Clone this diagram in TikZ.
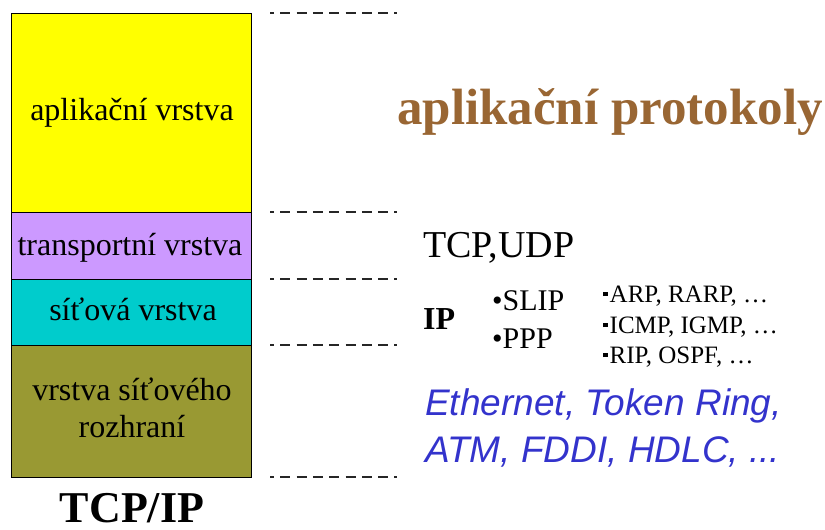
\documentclass[tikz,border=0pt]{standalone}
\usepackage{fontspec}
\setmainfont{Liberation Serif}
\newfontfamily\arialfont{Liberation Sans}
\definecolor{appyellow}{HTML}{FFFF00}
\definecolor{trpurple}{HTML}{CC99FF}
\definecolor{netcyan}{HTML}{00CCCC}
\definecolor{linkolive}{HTML}{999933}
\definecolor{protobrown}{HTML}{996633}
\definecolor{linkblue}{HTML}{3333CC}
\newcommand{\sqbul}{\raisebox{6pt}{\rule{4.5pt}{4.5pt}}\hspace{2pt}}
\begin{document}
\begin{tikzpicture}[x=1pt,y=-1pt,
  layer/.style={draw=black,line width=1.4pt,minimum width=240pt,inner sep=0pt,anchor=north west},
  ltext/.style={anchor=base,inner sep=0pt,font=\fontsize{32}{38}\selectfont},
  guide/.style={draw=black!85,line width=1.6pt,dash pattern=on 10pt off 6.3pt,dash phase=6pt},
  rtext/.style={anchor=base west,inner sep=0pt}]
\useasboundingbox (0,0) rectangle (825,530);
% layers
\node[layer,fill=appyellow,minimum height=199pt] (app) at (11,13) {};
\node[layer,fill=trpurple,minimum height=67pt] (tr) at (11,212) {};
\node[layer,fill=netcyan,minimum height=66pt] (net) at (11,279) {};
\node[layer,fill=linkolive,minimum height=132pt] (link) at (11,345) {};
\node[ltext] (appt) at (132,120) {aplikační vrstva};
\node[ltext] (trt) at (130,255) {transportní vrstva};
\node[ltext] (nett) at (133,320) {síťová vrstva};
\node[ltext] (linkt1) at (132,400) {vrstva síťového};
\node[ltext] (linkt2) at (132,437) {rozhraní};
\node[anchor=base,inner sep=0pt,font=\fontsize{44}{50}\selectfont\bfseries] (stack) at (132,522) {TCP/IP};
% guides
\foreach \i/\y in {1/13,2/212,3/279,4/345,5/477}{
  \coordinate (gs\i) at (270,\y);
  \coordinate (ge\i) at (397,\y);
  \draw[guide] (gs\i) -- (ge\i);
}
% right side texts
\node[rtext,font=\fontsize{51}{57}\selectfont\bfseries,text=protobrown] (proto) at (397,124) {aplikační protokoly};
\node[rtext,font=\fontsize{38}{44}\selectfont] (tcpudp) at (423,257) {TCP,UDP};
\node[rtext,font=\fontsize{32}{38}\selectfont\bfseries] (ip) at (423,329) {IP};
\node[rtext,font=\fontsize{30}{36}\selectfont] (slip) at (492,310) {•SLIP};
\node[rtext,font=\fontsize{30}{36}\selectfont] (ppp) at (492,348) {•PPP};
\node[rtext,font=\fontsize{25}{30}\selectfont] (arp) at (603,302) {\sqbul ARP, RARP, …};
\node[rtext,font=\fontsize{25}{30}\selectfont] (icmp) at (603,333) {\sqbul ICMP, IGMP, …};
\node[rtext,font=\fontsize{25}{30}\selectfont] (rip) at (603,363) {\sqbul RIP, OSPF, …};
\node[rtext,font=\arialfont\itshape\fontsize{37}{42}\selectfont,text=linkblue] (eth) at (425,415) {Ethernet, Token Ring,};
\node[rtext,font=\arialfont\itshape\fontsize{37}{42}\selectfont,text=linkblue] (atm) at (425,462) {ATM, FDDI, HDLC, ...};
\end{tikzpicture}
\end{document}
